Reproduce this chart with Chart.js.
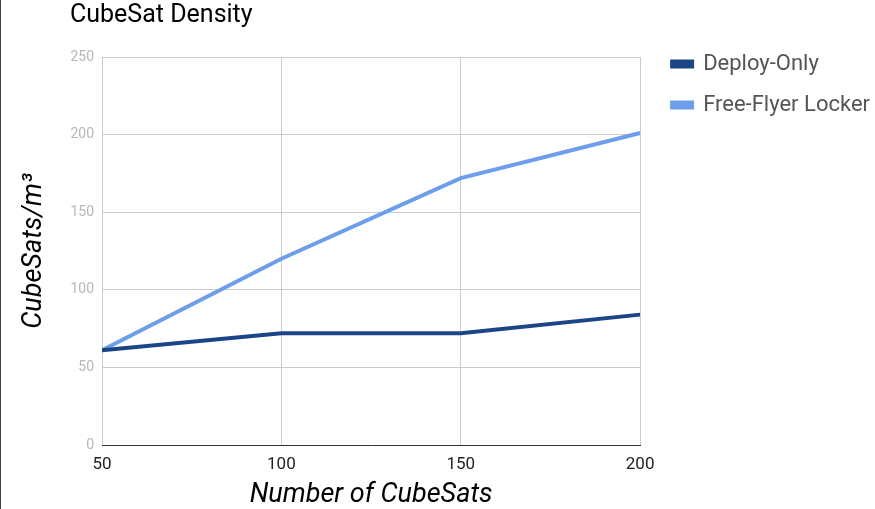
<!DOCTYPE html>
<html>
<head>
    <meta charset="utf-8">
    <title>CubeSat Density</title>
    <script src="https://cdn.jsdelivr.net/npm/chart.js"></script>
    <style>
        body { margin: 0; background: #fff; }
        #wrap { width: 875px; height: 509px; }
    </style>
</head>
<body>
    <div id="wrap"><canvas id="densityChart" width="875" height="509"></canvas></div>

    <script>
        const cubeSatCounts = [50, 100, 150, 200];
        const deployOnly = [61, 72, 72, 84];
        const freeFlyer = [61, 120, 172, 201];
        const yTicks = [0, 50, 100, 150, 200, 250];

        // title and the thin left border
        const extras = {
            id: 'extras',
            afterDraw(chart) {
                const ctx = chart.ctx;
                ctx.save();
                ctx.fillStyle = '#444';
                ctx.fillRect(0, 0, 1, chart.height);
                ctx.fillStyle = '#000';
                ctx.font = '25px Roboto';
                ctx.textBaseline = 'middle';
                ctx.fillText('CubeSat Density', 70, 16);
                ctx.restore();
            }
        };

        // empty axes used only as spacers around the plot
        const spacer = (pos, size) => ({
            position: pos,
            display: true,
            grid: { display: false },
            border: { display: false },
            ticks: { display: false },
            afterFit(scale) {
                if (pos === 'top') scale.height = size; else scale.width = size;
            }
        });

        const ctx = document.getElementById('densityChart').getContext('2d');
        const densityChart = new Chart(ctx, {
            type: 'line',
            data: {
                datasets: [{
                    label: 'Deploy-Only',
                    data: cubeSatCounts.map((x, i) => ({ x: x, y: deployOnly[i] })),
                    borderColor: '#1c4587',
                    backgroundColor: '#1c4587',
                    borderWidth: 4,
                    pointRadius: 0,
                    tension: 0
                }, {
                    label: 'Free-Flyer Locker',
                    data: cubeSatCounts.map((x, i) => ({ x: x, y: freeFlyer[i] })),
                    borderColor: '#6d9eeb',
                    backgroundColor: '#6d9eeb',
                    borderWidth: 4,
                    pointRadius: 0,
                    tension: 0
                }]
            },
            options: {
                responsive: false,
                animation: false,
                layout: { padding: { left: 0, top: 34, right: -5, bottom: 0 } },
                plugins: {
                    legend: {
                        position: 'right',
                        align: 'start',
                        maxWidth: 260,
                        labels: {
                            boxWidth: 20,
                            boxHeight: 5,
                            padding: 19,
                            color: '#555',
                            font: { family: 'Roboto', size: 22 }
                        }
                    },
                    tooltip: { enabled: false }
                },
                scales: {
                    x: {
                        type: 'linear',
                        min: 50,
                        max: 200,
                        afterBuildTicks(scale) {
                            scale.ticks = cubeSatCounts.map(v => ({ value: v }));
                        },
                        afterFit(scale) { scale.height = 64; },
                        grid: { color: '#ccc', drawTicks: false },
                        border: { color: '#333', width: 1 },
                        ticks: {
                            color: '#222',
                            padding: 10,
                            font: { family: 'Roboto', size: 17 }
                        },
                        title: {
                            display: true,
                            text: 'Number of CubeSats',
                            color: '#000',
                            padding: { top: 0, bottom: -2 },
                            font: { family: 'Roboto', size: 27, style: 'italic' }
                        }
                    },
                    y: {
                        min: 0,
                        max: 250,
                        afterBuildTicks(scale) {
                            scale.ticks = yTicks.map(v => ({ value: v }));
                        },
                        afterFit(scale) { scale.width = 102; },
                        grid: { color: '#ccc', drawTicks: false },
                        border: { display: false },
                        ticks: {
                            color: '#b7b7b7',
                            padding: 8,
                            font: { family: 'Roboto', size: 14 }
                        },
                        title: {
                            display: true,
                            text: 'CubeSats/m³',
                            color: '#000',
                            padding: { top: 18, bottom: 0 },
                            font: { family: 'Roboto', size: 27, style: 'italic' }
                        }
                    },
                    topSpace: spacer('top', 23),
                    rightSpace: spacer('right', 13)
                }
            },
            plugins: [extras]
        });
    </script>
</body>
</html>
